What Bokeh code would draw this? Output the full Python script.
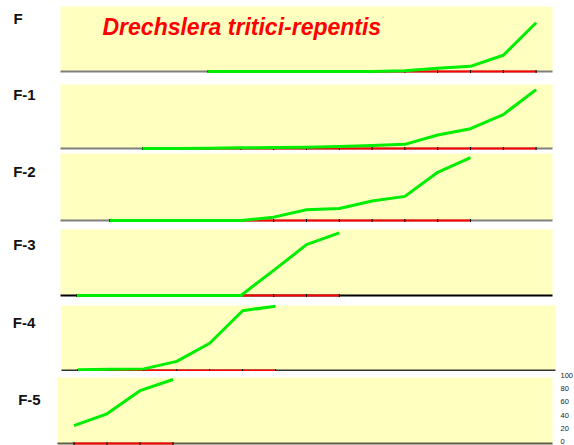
import math
from bokeh.plotting import figure
from bokeh.layouts import column
from bokeh.models import Range1d, Label, LabelSet, ColumnDataSource, BoxAnnotation
from bokeh.core.properties import value
from bokeh.embed import file_html
from bokeh.resources import INLINE

# ---- data (sampling occasion index 0..14, severity %) ----
title_text = "Drechslera tritici-repentis"
panel_names = ["F", "F-1", "F-2", "F-3", "F-4", "F-5"]

x_F = [4, 5, 6, 7, 8, 9, 10, 11, 12, 13, 14]
green_F = [0, 0, 0, 0, 0, 0, 1, 5, 8, 25, 75]
red_F = [0, 0, 0, 0, 0, 0, 0, 0, 0, 0, 0]

x_F1 = [2, 3, 4, 5, 6, 7, 8, 9, 10, 11, 12, 13, 14]
green_F1 = [0, 0, 0.5, 1, 1.5, 2, 3, 4.5, 6.5, 21, 31, 53, 92]
red_F1 = [0, 0, 0, 0, 0, 0, 0, 0, 0, 0, 0, 0, 0]

x_F2 = [1, 2, 3, 4, 5, 6, 7, 8, 9, 10, 11, 12]
green_F2 = [0, 0, 0, 0, 0, 5, 16, 18, 29, 36, 72, 94]
red_F2 = [0, 0, 0, 0, 0, 0, 0, 0, 0, 0, 0, 0]

x_F3 = [0, 1, 2, 3, 4, 5, 6, 7, 8]
green_F3 = [0, 0, 0, 0, 0, 0, 38, 77, 95]
red_F3 = [0, 0, 0, 0, 0, 0, 0, 0, 0]

x_F4 = [0, 1, 2, 3, 4, 5, 6]
green_F4 = [1, 2, 2.5, 14, 42, 92, 99]
red_F4 = [0, 0, 0, 0, 0, 0, 0]

x_F5 = [0, 1, 2, 3]
green_F5 = [27, 45, 80, 97]
red_F5 = [0, 0, 0, 0]

y_ticks = [0, 20, 40, 60, 80, 100]
y_tick_labels = ["0", "20", "40", "60", "80", "100"]

x_span = [-0.5, 14.5]   # extent of the sampling axis
y_span = [0, 100]       # extent of the severity axis

series = [
    (x_F, green_F, red_F),
    (x_F1, green_F1, red_F1),
    (x_F2, green_F2, red_F2),
    (x_F3, green_F3, red_F3),
    (x_F4, green_F4, red_F4),
    (x_F5, green_F5, red_F5),
]

# ---- layout (pixels) ----
W = 574
# (figure height, panel top, panel bottom, panel left, panel right,
#  axis colour, label left, label baseline)  -- positions local to each figure
layout_cfg = [
    (77, 6, 71, 60, 552, "#7f7f7f", 13, 18.3),
    (73, 7, 71, 60, 552, "#7f7f7f", 12.7, 17.3),
    (74, 3, 70, 60, 552, "#7f7f7f", 12.7, 20.7),
    (76, 5, 71, 60, 552, "#000000", 12.7, 20.3),
    (71, 5, 70, 61, 555, "#333333", 12.3, 21.7),
    (74, 6, 72, 57, 552, "#5e5e48", 17.7, 27.7),
]

FONT = "Liberation Sans"
figs = []
for i, (name, (xs, gs, rs), cfg) in enumerate(zip(panel_names, series, layout_cfg)):
    H, T, B, L, R, acol, lx, lb = cfg
    sx = (R - L) / (x_span[1] - x_span[0])
    sy = (B - T) / (y_span[1] - y_span[0])
    x0 = x_span[0] - L / sx
    x1 = x_span[1] + (W - R) / sx
    y0 = y_span[0] - (H - B) / sy
    y1 = y_span[1] + T / sy

    def px(v):
        return x0 + v / sx

    def py(v):
        return y1 - v / sy

    p = figure(width=W, height=H, title=None,
               x_range=Range1d(x0, x1), y_range=Range1d(y0, y1),
               output_backend="svg", toolbar_location=None,
               x_axis_location=None, y_axis_location=None,
               min_border=0)
    p.background_fill_color = "white"
    p.border_fill_color = "white"
    p.outline_line_color = None
    p.grid.visible = False
    p.add_layout(BoxAnnotation(left=x_span[0], right=x_span[1],
                               bottom=y_span[0], top=y_span[1],
                               fill_color="#FFFFC0", fill_alpha=1.0,
                               line_color=None, level="underlay"))
    p.line(x_span, [0, 0], line_color=acol, line_width=2)
    p.line(xs, rs, line_color="#FF0000", line_width=2)
    p.scatter(xs, rs, marker="dash", angle=math.pi / 2, size=3,
              line_color="black", line_width=1)
    p.line(xs, gs, line_color="#00EE00", line_width=3, line_join="round")
    p.add_layout(Label(x=px(lx), y=py(lb), text=name, text_font=FONT,
                       text_font_size="15px", text_font_style="bold",
                       text_color="#111111", text_baseline="alphabetic"))
    if i == 0:
        p.add_layout(Label(x=px(102), y=py(26.7), text=title_text, text_font=FONT,
                           text_font_size="23px", text_font_style="bold italic",
                           text_color="#FF0000", text_baseline="alphabetic"))
    if i == 5:
        lift = 2.0 / sy  # keep the lowest tick label inside the page
        src = ColumnDataSource(dict(y=[t + lift for t in y_ticks], t=y_tick_labels,
                                    x=[px(560)] * len(y_ticks)))
        p.add_layout(LabelSet(x="x", y="y", text="t", source=src,
                              text_font=value(FONT), text_font_size=value("7.5px"),
                              text_color="#222222", text_baseline="middle",
                              text_align="left"))
    figs.append(p)

layout = column(*figs, spacing=0)
open("out.html", "w").write(file_html(layout, INLINE))
